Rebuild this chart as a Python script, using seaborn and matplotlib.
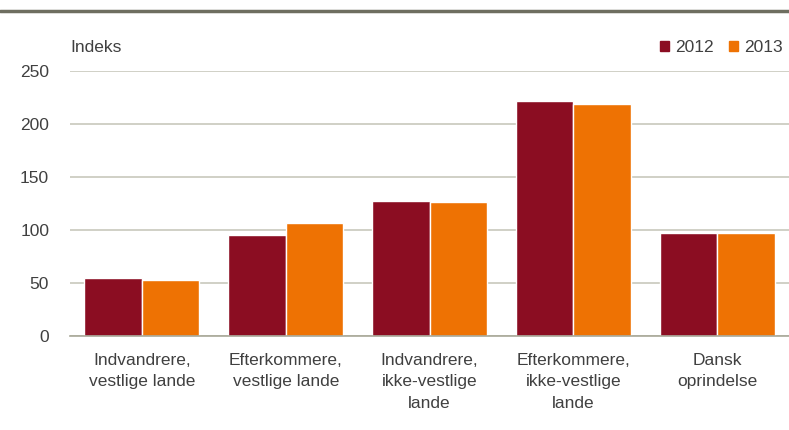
import matplotlib
matplotlib.use("Agg")
import matplotlib.pyplot as plt
import seaborn as sns
import pandas as pd
from matplotlib.lines import Line2D

categories = ["Indvandrere,\nvestlige lande", "Efterkommere,\nvestlige lande",
              "Indvandrere,\nikke-vestlige\nlande", "Efterkommere,\nikke-vestlige\nlande",
              "Dansk\noprindelse"]
v2012 = [55, 95, 127, 222, 97]
v2013 = [53, 107, 126, 219, 97]
years = ["2012", "2013"]
yticks = [0, 50, 100, 150, 200, 250]
colors = ["#8B0D22", "#EE7203"]

sns.set_theme(style="white")
fam = ["Liberation Sans Narrow", "Liberation Sans", "DejaVu Sans"]
plt.rcParams["font.family"] = fam
txt = "#404040"

df = pd.DataFrame({
    "cat": categories * 2,
    "year": [years[0]] * 5 + [years[1]] * 5,
    "val": v2012 + v2013,
})

fig = plt.figure(figsize=(7.89, 4.30), dpi=100)
ax = fig.add_axes([70 / 789, 1 - 336 / 430, 1 - 70 / 789, (336 - 71) / 430])
sns.barplot(data=df, x="cat", y="val", hue="year", palette=colors, saturation=1,
            width=0.8, edgecolor="white", linewidth=1, ax=ax, legend=False)
ax.set_ylim(0, 250)
ax.set_xlim(-0.5, 4.5)
ax.set_yticks(yticks)
ax.yaxis.grid(True, color="#C8C8BC", linewidth=1.2)
ax.set_axisbelow(True)
for s in ["top", "right", "left"]:
    ax.spines[s].set_visible(False)
ax.spines["bottom"].set_color("#A8A898")
ax.spines["bottom"].set_linewidth(1.2)
ax.tick_params(axis="both", length=0, labelsize=12.5, colors=txt)
ax.tick_params(axis="x", pad=12)
ax.tick_params(axis="y", pad=15)
ax.set_xlabel("")
ax.set_ylabel("")
for lab in ax.get_xticklabels():
    lab.set_linespacing(1.55)

fig.text(70 / 789, 1 - 48 / 430, "Indeks", fontsize=12.5, color=txt, va="center", ha="left")
fig.add_artist(Line2D([0, 1], [1 - 11 / 430, 1 - 11 / 430], color="#6E6E60", linewidth=2.5))

handles = [plt.Rectangle((0, 0), 1, 1, color=c) for c in colors]
fig.legend(handles, years, loc="center right", bbox_to_anchor=(1.012, 1 - 48 / 430),
           ncol=2, frameon=False, fontsize=12.5, handlelength=0.5, handleheight=0.5,
           handletextpad=0.35, columnspacing=0.9, labelcolor=txt)

fig.savefig("out.png", dpi=100)
